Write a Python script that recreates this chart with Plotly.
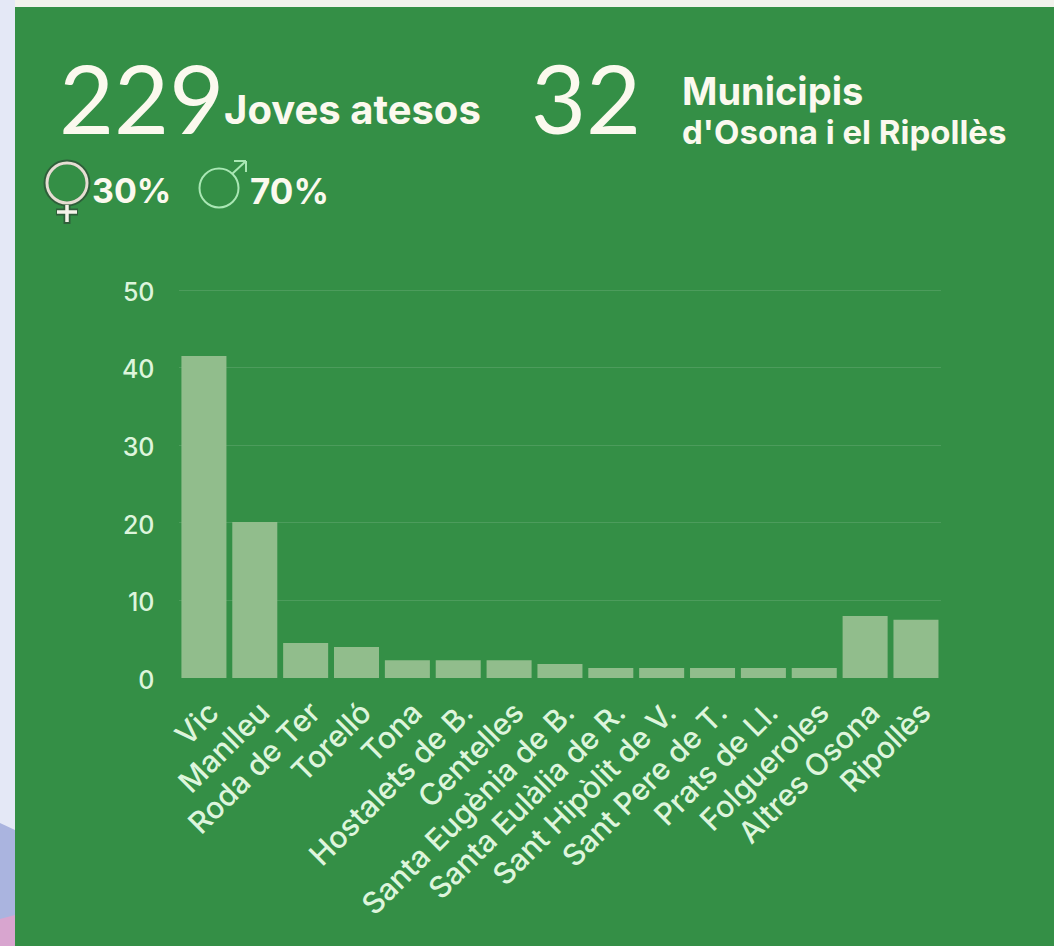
import plotly.graph_objects as go

categories = ["Vic", "Manlleu", "Roda de Ter", "Torelló", "Tona", "Hostalets de B.", "Centelles",
              "Santa Eugènia de B.", "Santa Eulàlia de R.", "Sant Hipòlit de V.", "Sant Pere de T.",
              "Prats de Ll.", "Folgueroles", "Altres Osona", "Ripollès"]
values = [41.5, 20.1, 4.5, 4, 2.3, 2.3, 2.3, 1.8, 1.3, 1.3, 1.3, 1.3, 1.3, 8, 7.5]
y_ticks = [0, 10, 20, 30, 40, 50]

W, H = 1054, 946
GREEN = "#348f46"
FONT = "Inter"

fig = go.Figure(go.Bar(x=categories, y=values, marker=dict(color="#91bd8c", line_width=0), showlegend=False))

def px(x): return x / W
def py(y): return 1 - y / H

def rect(x0, y0, x1, y1, color):
    fig.add_shape(type="rect", xref="paper", yref="paper", x0=px(x0), x1=px(x1), y0=py(y0), y1=py(y1),
                  fillcolor=color, line_width=0, layer="below")

def ring(cx, cy, r, color, width):
    fig.add_shape(type="circle", xref="paper", yref="paper", x0=px(cx - r), x1=px(cx + r),
                  y0=py(cy + r), y1=py(cy - r), line=dict(color=color, width=width), fillcolor="rgba(0,0,0,0)")

def stroke(x0, y0, x1, y1, color, width):
    fig.add_shape(type="line", xref="paper", yref="paper", x0=px(x0), x1=px(x1), y0=py(y0), y1=py(y1),
                  line=dict(color=color, width=width))

rect(0, 0, 1054, 7, "#f1f2ec")
rect(0, 0, 15, 946, "#e4e8f6")
fig.add_shape(type="path", xref="paper", yref="paper", layer="below", line_width=0, fillcolor="#aab4df",
              path=f"M 0 {py(823)} L {px(15)} {py(830)} L {px(15)} {py(946)} L 0 {py(946)} Z")
fig.add_shape(type="path", xref="paper", yref="paper", layer="below", line_width=0, fillcolor="#d8a5cf",
              path=f"M 0 {py(919)} L {px(15)} {py(915)} L {px(15)} {py(946)} L 0 {py(946)} Z")

# female / male icons
ring(67, 183, 21, "#2f5f3a", 5)
ring(67, 183, 20, "#e6ded3", 3)
stroke(67, 205, 67, 224, "#2f5f3a", 7)
stroke(56, 212, 78, 212, "#2f5f3a", 7)
stroke(67, 205, 67, 222, "#f6f3ea", 3.5)
stroke(57, 212, 77, 212, "#f6f3ea", 3.5)
ring(219, 188, 19.5, "#a9e7b4", 2)
stroke(232, 174, 246, 161, "#a9e7b4", 2)
stroke(234, 161, 246, 161, "#a9e7b4", 2)
stroke(246, 161, 246, 172, "#a9e7b4", 2)

def label(text, x, y, size, color="#fbf9ee", weight="normal", family=FONT, anchor="left"):
    fig.add_annotation(text=text, x=px(x), y=py(y), xref="paper", yref="paper", showarrow=False,
                       xanchor=anchor, yanchor="middle", align="left", borderpad=0, borderwidth=0,
                       font=dict(size=size, color=color, family=family, weight=weight))

label("229", 59, 97, 95, family="Lato")
label("Joves atesos", 224, 110, 40, weight=700)
label("32", 531, 97, 95, family="Lato")
label("Municipis", 682, 91, 38, weight=700)
label("d'Osona i el Ripollès", 682, 132, 33, weight=700)
label("30%", 92, 191, 34, weight=700)
label("70%", 250, 191, 35, weight=700)

step = 50.86
top_extra = 0.5
fig.update_layout(
    width=W, height=H, autosize=False,
    margin=dict(l=0, r=0, t=0, b=0, autoexpand=False),
    paper_bgcolor=GREEN, plot_bgcolor=GREEN,
    bargap=0.115, showlegend=False,
    font=dict(family=FONT, color="#ddf5dc"),
    xaxis=dict(domain=[178.5 / W, (178.5 + 15 * step) / W], range=[-0.5, 14.5], tickangle=-45, showgrid=False,
               zeroline=False, showline=False, ticks="", ticklen=0, ticklabelstandoff=10, ticklabelshift=6,
               tickfont=dict(size=30, color="#ddf5dc", family=FONT, weight=500)),
    yaxis=dict(domain=[1 - 678 / H, 1 - (290 - top_extra * 7.76) / H], range=[0, 50 + top_extra], tickvals=y_ticks,
               gridcolor="rgba(255,255,255,0.12)", gridwidth=1, zeroline=False, showline=False,
               ticks="", ticklabelstandoff=23, ticklabelshift=2,
               tickfont=dict(size=25, color="#ddf5dc", family=FONT, weight=500)),
)

fig.write_html("out.html", config={"displayModeBar": False},
               post_script="document.body.style.margin='0';document.documentElement.style.overflow='hidden';")
